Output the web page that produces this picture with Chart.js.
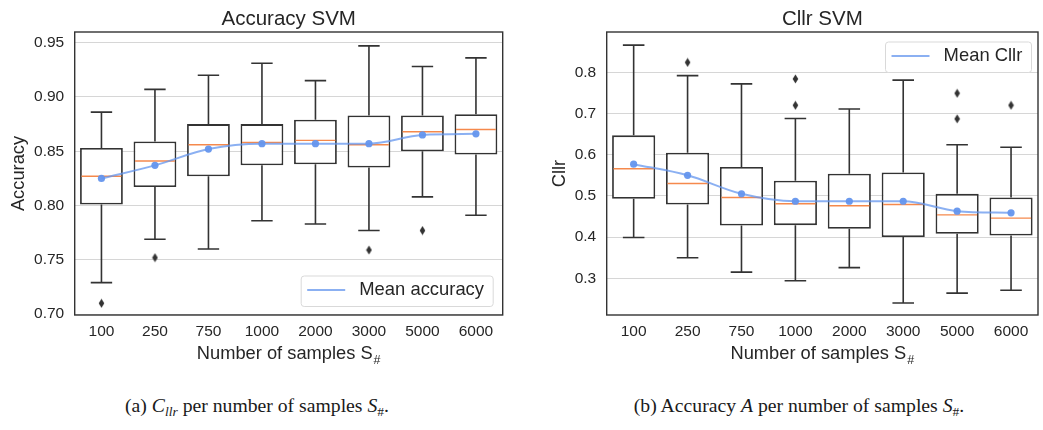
<!DOCTYPE html>
<html><head><meta charset="utf-8">
<script src="https://cdn.jsdelivr.net/npm/chart.js@4.4.1/dist/chart.umd.min.js"></script>
<style>
html,body{margin:0;padding:0;background:#fff;width:1043px;height:430px;overflow:hidden;position:relative}
#c1{position:absolute;left:0;top:0}
#c2{position:absolute;left:520px;top:0}
.cap{position:absolute;top:394px;width:460px;text-align:center;font-family:'Liberation Serif','DejaVu Serif',serif;font-size:19.7px;color:#1a1a1a;white-space:nowrap}
.cap sub{font-size:13.5px;vertical-align:-4px;line-height:0}
</style></head><body>
<canvas id="c1" width="520" height="370"></canvas>
<canvas id="c2" width="523" height="370"></canvas>
<div class="cap" style="left:27px">(a) <i>C</i><sub><i>llr</i></sub> per number of samples <i>S</i><sub>#</sub>.</div>
<div class="cap" style="left:569px">(b) Accuracy <i>A</i> per number of samples <i>S</i><sub>#</sub>.</div>
<script>
// ---------- data ----------
const categories = ['100','250','750','1000','2000','3000','5000','6000'];

const accWhiskerLow  = [0.729,0.769,0.760,0.786,0.783,0.777,0.808,0.791];
const accQ1          = [0.801,0.817,0.827,0.837,0.838,0.835,0.850,0.847];
const accMedian      = [0.827,0.841,0.856,0.858,0.860,0.856,0.868,0.870];
const accQ3          = [0.853,0.859,0.875,0.875,0.879,0.883,0.883,0.884];
const accWhiskerHigh = [0.886,0.907,0.920,0.931,0.915,0.947,0.928,0.936];
const accMean        = [0.825,0.837,0.852,0.857,0.857,0.857,0.865,0.866];
const accOutliers    = [[0.710],[0.752],[],[],[],[0.759],[0.777],[]];
const accTicks       = [0.70,0.75,0.80,0.85,0.90,0.95];
const accTickLabels  = ['0.70','0.75','0.80','0.85','0.90','0.95'];

const cllrWhiskerLow  = [0.399,0.350,0.315,0.294,0.326,0.240,0.264,0.271];
const cllrQ1          = [0.493,0.479,0.428,0.429,0.420,0.400,0.408,0.404];
const cllrMedian      = [0.566,0.530,0.496,0.481,0.476,0.479,0.454,0.446];
const cllrQ3          = [0.647,0.605,0.570,0.537,0.554,0.557,0.505,0.496];
const cllrWhiskerHigh = [0.866,0.792,0.772,0.688,0.711,0.781,0.624,0.618];
const cllrMean        = [0.577,0.550,0.505,0.487,0.487,0.487,0.463,0.459];
const cllrOutliers    = [[],[0.824],[],[0.784,0.720],[],[],[0.749,0.687],[0.720]];
const cllrTicks       = [0.3,0.4,0.5,0.6,0.7,0.8];
const cllrTickLabels  = ['0.3','0.4','0.5','0.6','0.7','0.8'];

// ---------- styles ----------
const FONT = "'Liberation Sans', Arial, Helvetica, sans-serif";
const TEXT = '#262626';
const EDGE = '#333333';
const MEDIAN = '#f5894c';
const MEAN_LINE = 'rgba(100,149,237,0.75)';
const MEAN_PT = 'rgba(100,149,237,0.95)';
Chart.defaults.font.family = FONT;
Chart.defaults.color = TEXT;

// thin diamond flier marker
const diamond = document.createElement('canvas');
diamond.width = 7; diamond.height = 10;
(function(){const c=diamond.getContext('2d');c.fillStyle=EDGE;c.beginPath();c.moveTo(3.5,0.5);c.lineTo(6.3,5);c.lineTo(3.5,9.5);c.lineTo(0.7,5);c.closePath();c.fill();})();

const boxExtras = {
  id: 'boxExtras',
  beforeDatasetsDraw(chart, args, o) {
    const {ctx} = chart; const y = chart.scales.y;
    const meta = chart.getDatasetMeta(0);
    ctx.save();
    ctx.strokeStyle = EDGE; ctx.lineWidth = 1.6;
    meta.data.forEach((bar, i) => {
      const cx = bar.x, w = bar.width;
      const yl = y.getPixelForValue(o.low[i]), yh = y.getPixelForValue(o.high[i]);
      const y1 = y.getPixelForValue(o.q1[i]), y3 = y.getPixelForValue(o.q3[i]);
      ctx.beginPath();
      ctx.moveTo(cx, y1); ctx.lineTo(cx, yl);
      ctx.moveTo(cx - w/4, yl); ctx.lineTo(cx + w/4, yl);
      ctx.moveTo(cx, y3); ctx.lineTo(cx, yh);
      ctx.moveTo(cx - w/4, yh); ctx.lineTo(cx + w/4, yh);
      ctx.stroke();
    });
    ctx.restore();
  },
  afterDatasetDraw(chart, args, o) {
    if (args.index !== 0) return;
    const {ctx} = chart; const y = chart.scales.y;
    const meta = chart.getDatasetMeta(0);
    ctx.save();
    ctx.strokeStyle = MEDIAN; ctx.lineWidth = 1.4;
    meta.data.forEach((bar, i) => {
      const ym = y.getPixelForValue(o.median[i]);
      ctx.beginPath();
      ctx.moveTo(bar.x - bar.width/2 + 1.5, ym); ctx.lineTo(bar.x + bar.width/2 - 1.5, ym);
      ctx.stroke();
    });
    ctx.restore();
  },
  afterDraw(chart, args, o) {
    const {ctx, chartArea: a} = chart;
    ctx.save();
    // frame
    ctx.strokeStyle = EDGE; ctx.lineWidth = 1.4;
    ctx.strokeRect(a.left, a.top, a.right - a.left, a.bottom - a.top);
    const cx = (a.left + a.right) / 2;
    // title
    ctx.fillStyle = TEXT; ctx.textBaseline = 'alphabetic'; ctx.textAlign = 'left';
    ctx.font = `20.5px ${FONT}`;
    const tw = ctx.measureText(o.title).width;
    ctx.fillText(o.title, cx - tw/2, 25);
    // x axis title with subscript
    const main = 'Number of samples S', sub = '#';
    ctx.font = `18.3px ${FONT}`; const mw = ctx.measureText(main).width;
    ctx.font = `12.5px ${FONT}`; const sw = ctx.measureText(sub).width;
    const sx = cx - (mw + sw + 1) / 2;
    ctx.font = `18.3px ${FONT}`; ctx.fillText(main, sx, 359.3);
    ctx.font = `12.5px ${FONT}`; ctx.fillText(sub, sx + mw + 1, 363.5);
    // legend
    ctx.font = `18.4px ${FONT}`;
    const lw = ctx.measureText(o.legendText).width;
    const bw = 58.6 + lw + 8.7, bh = 30.5;
    const bx = a.right - o.legendPadRight - bw;
    const by = o.legendCorner === 'lower' ? a.bottom - o.legendPadV - bh : a.top + o.legendPadV;
    ctx.beginPath();
    ctx.roundRect(bx + 0.5, by + 0.5, bw, bh, 3);
    ctx.fillStyle = 'rgba(255,255,255,0.85)'; ctx.fill();
    ctx.strokeStyle = '#d9d9d9'; ctx.lineWidth = 1; ctx.stroke();
    const ly = by + bh/2 - 0.8;
    ctx.strokeStyle = MEAN_LINE; ctx.lineWidth = 2;
    ctx.beginPath(); ctx.moveTo(bx + 6.5, ly); ctx.lineTo(bx + 44.5, ly); ctx.stroke();
    ctx.fillStyle = TEXT;
    ctx.fillText(o.legendText, bx + 58.6, by + bh/2 + 4.6);
    ctx.restore();
  }
};

function makeChart(id, s) {
  const outlierPts = [];
  s.outliers.forEach((arr, i) => arr.forEach(v => outlierPts.push({x: categories[i], y: v})));
  return new Chart(document.getElementById(id), {
    type: 'bar',
    data: {
      labels: categories,
      datasets: [
        { type: 'bar', order: 3, data: s.q1.map((v, i) => [v, s.q3[i]]),
          backgroundColor: '#ffffff', borderColor: EDGE, borderWidth: 1.8, borderSkipped: false,
          barPercentage: 0.8, categoryPercentage: 1.0 },
        { type: 'line', order: 2, data: outlierPts, showLine: false,
          pointStyle: diamond, pointRadius: 4, pointHoverRadius: 4 },
        { type: 'line', order: 1, data: s.mean, borderColor: MEAN_LINE, borderWidth: 2,
          cubicInterpolationMode: 'monotone', pointRadius: 3.6, pointBorderWidth: 0,
          pointBackgroundColor: MEAN_PT, fill: false }
      ]
    },
    plugins: [boxExtras],
    options: {
      responsive: false, animation: false, devicePixelRatio: 1,
      layout: { padding: { left: 0, right: s.padRight, top: 32, bottom: 0 } },
      plugins: {
        legend: { display: false }, tooltip: { enabled: false }, title: { display: false },
        boxExtras: { low: s.low, q1: s.q1, median: s.median, q3: s.q3, high: s.high,
          title: s.title, legendText: s.legendText, legendCorner: s.legendCorner,
          legendPadRight: s.legendPadRight, legendPadV: s.legendPadV }
      },
      scales: {
        x: { type: 'category', offset: true,
          grid: { display: false, drawTicks: false }, border: { display: false },
          ticks: { font: { size: 15.5 }, padding: 7.4, color: TEXT, maxRotation: 0 },
          afterFit: sc => { sc.height = 55; } },
        y: { type: 'linear', min: s.min, max: s.max,
          grid: { color: '#d6d6d6', lineWidth: 1, drawTicks: false }, border: { display: false },
          afterBuildTicks: sc => { sc.ticks = s.ticks.map(v => ({ value: v })); },
          ticks: { font: { size: 15.5 }, padding: 10.5, color: TEXT,
            callback: (v, i) => s.tickLabels[i] },
          title: { display: true, text: s.yTitle, font: { size: 18.3 }, color: TEXT,
            padding: { top: s.yTitlePad, bottom: 0 } },
          afterFit: sc => { sc.width = s.yWidth; } }
      }
    }
  });
}

makeChart('c1', {
  low: accWhiskerLow, q1: accQ1, median: accMedian, q3: accQ3, high: accWhiskerHigh,
  mean: accMean, outliers: accOutliers, ticks: accTicks, tickLabels: accTickLabels,
  min: 0.6992, max: 0.9598, title: 'Accuracy SVM', yTitle: 'Accuracy', yTitlePad: 7.5,
  yWidth: 74.7, padRight: 17.3, legendText: 'Mean accuracy', legendCorner: 'lower',
  legendPadRight: 10, legendPadV: 9
});
makeChart('c2', {
  low: cllrWhiskerLow, q1: cllrQ1, median: cllrMedian, q3: cllrQ3, high: cllrWhiskerHigh,
  mean: cllrMean, outliers: cllrOutliers, ticks: cllrTicks, tickLabels: cllrTickLabels,
  min: 0.2109, max: 0.8978, title: 'Cllr SVM', yTitle: 'Cllr', yTitlePad: 29.2,
  yWidth: 86.7, padRight: 1, legendText: 'Mean Cllr', legendCorner: 'upper',
  legendPadRight: 7, legendPadV: 9.5
});
</script>
</body></html>
